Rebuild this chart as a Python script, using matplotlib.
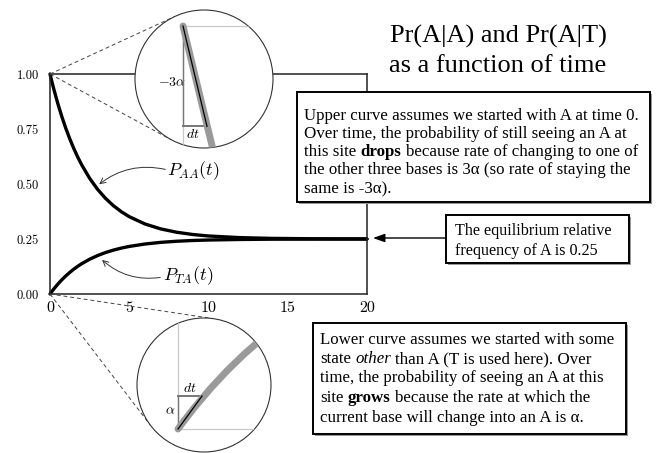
import matplotlib
matplotlib.use("Agg")
import numpy as np
import matplotlib.pyplot as plt
from matplotlib.patches import Circle, Rectangle, FancyArrowPatch

plt.rcParams.update({
    "mathtext.fontset": "cm",
    "font.family": "Liberation Serif",
})

# P(A at t | A at 0) and P(A at t | T at 0), alpha = 0.1
alpha = 0.1
t_vals = [0, 0.05, 0.1, 0.25, 0.5, 0.75, 1, 1.25, 1.5, 1.75, 2, 2.5, 3, 3.5,
          4, 4.5, 5, 6, 7, 8, 9, 10, 12, 14, 17, 20]
p_aa = [1.0, 0.9852, 0.9706, 0.9286, 0.8640, 0.8056, 0.7527, 0.7049, 0.6616,
        0.6224, 0.5870, 0.5259, 0.4759, 0.4349, 0.4014, 0.3740, 0.3515, 0.3180,
        0.2956, 0.2806, 0.2705, 0.2637, 0.2562, 0.2528, 0.2508, 0.2503]
p_ta = [0.0, 0.0049, 0.0098, 0.0238, 0.0453, 0.0648, 0.0824, 0.0984, 0.1128,
        0.1259, 0.1377, 0.1580, 0.1747, 0.1884, 0.1995, 0.2087, 0.2162, 0.2273,
        0.2348, 0.2398, 0.2432, 0.2454, 0.2479, 0.2491, 0.2497, 0.2499]
x_ticks = [0, 5, 10, 15, 20]
y_ticks = [0.0, 0.25, 0.5, 0.75, 1.0]
y_ticklabels = ["0.00", "0.25", "0.50", "0.75", "1.00"]

W, H = 659, 453
fig = plt.figure(figsize=(W / 100, H / 100), dpi=100)


def px_box(x0, y0, x1, y1):
    # pixel box (top-left origin) -> figure fraction rect
    return [x0 / W, 1 - y1 / H, (x1 - x0) / W, (y1 - y0) / H]


# main plot
ax = fig.add_axes(px_box(50, 74, 367, 294))
ax.plot(t_vals, p_aa, color="black", lw=2.4, solid_capstyle="round", clip_on=False)
ax.plot(t_vals, p_ta, color="black", lw=2.4, solid_capstyle="round", clip_on=False)
ax.set_xlim(0, 20)
ax.set_ylim(0, 1)
ax.set_xticks(x_ticks)
ax.set_xticklabels([str(v) for v in x_ticks], family="cmr10", fontsize=11.5)
ax.set_yticks(y_ticks)
ax.set_yticklabels(y_ticklabels, family="cmr10", fontsize=9)
ax.tick_params(axis="x", length=0, pad=5)
ax.tick_params(axis="y", length=0, pad=8)
for sp in ax.spines.values():
    sp.set_linewidth(1.1)
    sp.set_color("#222222")

# overlay in pixel coordinates for the annotations
ov = fig.add_axes([0, 0, 1, 1], zorder=2)
ov.set_xlim(0, W)
ov.set_ylim(H, 0)
ov.axis("off")
ov.patch.set_alpha(0)


def to_ov(pt):
    disp = ax.transData.transform(pt)
    return ov.transData.inverted().transform(disp)


def tangents(p, c, r):
    dx, dy = p[0] - c[0], p[1] - c[1]
    d = np.hypot(dx, dy)
    base = np.arctan2(dy, dx)
    off = np.arccos(r / d)
    return [(c[0] + r * np.cos(base + s * off), c[1] + r * np.sin(base + s * off))
            for s in (1, -1)]


def magnifier(center, r, anchor, xlim, ylim, y0, slope, dt, series, lab_rate, rate_xy, dt_xy):
    # dashed lines from the curve start to the lens
    for q in tangents(anchor, center, r):
        ov.plot([anchor[0], q[0]], [anchor[1], q[1]], ls=(0, (4, 3)),
                color="#444444", lw=0.7, zorder=2)
    ov.add_patch(Circle(center, r, fc="white", ec="#333333", lw=0.8, zorder=3))

    ins = fig.add_axes(px_box(center[0] - r, center[1] - r, center[0] + r, center[1] + r),
                       zorder=3)
    ins.set_xlim(*xlim)
    ins.set_ylim(*ylim)
    ins.axis("off")
    ins.patch.set_alpha(0)
    clip = Circle((0.5, 0.5), 0.5, transform=ins.transAxes)

    y1 = y0 + slope * dt
    arts = []
    arts += ins.plot([0, xlim[1]], [y0, y0], color="#c8c8c8", lw=0.9)
    if slope < 0:
        arts += ins.plot([0, 0], [y0, ylim[0]], color="#c8c8c8", lw=0.9)
    else:
        arts += ins.plot([0, 0], [y0, ylim[1]], color="#c8c8c8", lw=0.9)
    arts += ins.plot([0, 0], [y0, y1], color="#777777", lw=1.0)
    arts += ins.plot([0, dt], [y1, y1], color="#777777", lw=1.4)
    arts += ins.plot(t_vals, series, color="#9a9a9a", lw=5, solid_capstyle="round")
    arts += ins.plot([0, dt], [y0, y1], color="black", lw=0.9)
    for a in arts:
        a.set_clip_path(clip)
    ov.text(*rate_xy, lab_rate, fontsize=10, ha="center", va="center", zorder=4)
    ov.text(*dt_xy, r"$dt$", fontsize=10, ha="center", va="center", zorder=4)


magnifier((204, 79), 69, to_ov((0, 1)), (-0.096, 0.18), (0.9825, 1.0023),
          1.0, -3 * alpha, 0.048, p_aa, r"$-3\alpha$", (172, 83), (193, 134))
magnifier((204, 385), 67, to_ov((0, 0)), (-0.623, 1.413), (-0.0254, 0.1227),
          0.0, alpha, 0.365, p_ta, r"$\alpha$", (170, 411), (190, 388))

# curve labels with curved arrows
ov.text(193, 171, r"$P_{AA}(t)$", fontsize=13, ha="center", va="center", zorder=4)
ov.text(188, 276, r"$P_{TA}(t)$", fontsize=13, ha="center", va="center", zorder=4)
ov.add_patch(FancyArrowPatch((168, 170), (97, 186), connectionstyle="arc3,rad=0.25",
                             arrowstyle="->,head_length=4,head_width=2",
                             color="#333333", lw=0.7, zorder=4))
ov.add_patch(FancyArrowPatch((163, 277), (100, 258), connectionstyle="arc3,rad=-0.25",
                             arrowstyle="->,head_length=4,head_width=2",
                             color="#333333", lw=0.7, zorder=4))

# title
ov.text(498, 43, "Pr(A|A) and Pr(A|T)", fontsize=19, ha="center", va="baseline")
ov.text(498, 72, "as a function of time", fontsize=19, ha="center", va="baseline")

renderer = fig.canvas.get_renderer()
FS = 12.2


def text_line(x, y, runs, size=FS):
    sp = ov.text(0, 0, "a a", fontsize=size).get_window_extent(renderer).width - \
        ov.text(0, 0, "aa", fontsize=size).get_window_extent(renderer).width
    for i, (s, kw) in enumerate(runs):
        t = ov.text(x, y, s, fontsize=size, ha="left", va="baseline", zorder=6, **kw)
        x += t.get_window_extent(renderer).width + sp
    for t in ov.texts[-len(runs) - 2:-len(runs)]:
        t.remove()


def text_box(x0, y0, x1, y1):
    ov.add_patch(Rectangle((x0 + 2, y0 + 2), x1 - x0, y1 - y0, fc="#999999", ec="none", zorder=5))
    ov.add_patch(Rectangle((x0, y0), x1 - x0, y1 - y0, fc="white", ec="black", lw=1.4, zorder=5))


R, B, I = {}, {"weight": "bold"}, {"style": "italic"}

text_box(297, 92, 650, 202)
text_line(304, 120, [("Upper curve assumes we started with A at time 0.", R)])
text_line(304, 138, [("Over time, the probability of still seeing an A at", R)])
text_line(304, 156, [("this site", R), ("drops", B), ("because rate of changing to one of", R)])
text_line(304, 174, [("the other three bases is 3\u03b1 (so rate of staying the", R)])
text_line(304, 193, [("same is -3\u03b1).", R)])

text_box(446, 215, 629, 263)
text_line(455, 235, [("The equilibrium relative", R)], size=11.6)
text_line(455, 255, [("frequency of A is 0.25", R)], size=11.6)
ov.add_patch(FancyArrowPatch((446, 238), (373, 238), arrowstyle="-|>,head_length=7,head_width=2.5",
                             color="black", lw=1.0, zorder=4, shrinkA=0, shrinkB=0))

text_box(313, 323, 626, 434)
text_line(320, 344, [("Lower curve assumes we started with some", R)])
text_line(320, 363, [("state", R), ("other", I), ("than A (T is used here). Over", R)])
text_line(320, 382, [("time, the probability of seeing an A at this", R)])
text_line(320, 402, [("site", R), ("grows", B), ("because the rate at which the", R)])
text_line(320, 422, [("current base will change into an A is \u03b1.", R)])

fig.savefig("out.png", dpi=100, facecolor="white")
